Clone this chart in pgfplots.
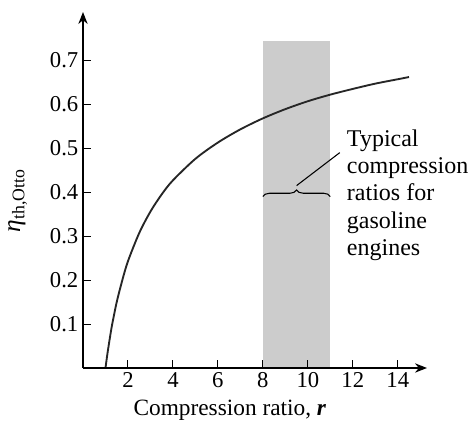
\documentclass[border=0pt]{standalone}
\usepackage{fontspec}
\setmainfont{Liberation Serif}
\usepackage{pgfplots}
\pgfplotsset{compat=1.18}
\usetikzlibrary{arrows.meta,decorations.pathreplacing}

\begin{document}
\begin{tikzpicture}
% frame of the whole picture, in pt from the axis corner
\path[use as bounding box] (-62.25pt,-45pt) rectangle (289.5pt,276pt);
\begin{axis}[
	at={(0pt,0pt)}, anchor=south west,
	scale only axis,
	width=258pt, height=267pt,
	xmin=0, xmax=15.3,
	ymin=0, ymax=0.81,
	axis lines=left,
	axis on top,
	axis line style={line width=1pt, -{Stealth[length=9pt,width=7pt]}},
	tick align=inside,
	major tick length=6pt,
	tick style={line width=0.8pt, black},
	xtick={2,4,6,8,10,12,14},
	ytick={0.1,0.2,0.3,0.4,0.5,0.6,0.7},
	/pgf/number format/assume math mode=true,
	/pgf/number format/fixed,
	/pgf/number format/precision=1,
	ticklabel style={font=\fontsize{17}{20}\selectfont},
	xlabel={Compression ratio, \textit{\textbf{r}}},
	ylabel={\textit{η}\textsubscript{th,Otto}},
	x label style={font=\fontsize{17.5}{20}\selectfont,
		at={(axis description cs:0.427,-0.118)}, anchor=center},
	y label style={font=\fontsize{19}{22}\selectfont,
		at={(axis description cs:-0.19,0.47)}, anchor=center},
	clip=false,
	]

	% typical range for gasoline engines
	\addplot[fill=black!20, draw=none] coordinates {
	(8,0) (8,0.745) (11,0.745) (11,0)
	} -- cycle;

	% thermal efficiency of the Otto cycle
	\addplot[line width=1.4pt, color=black!85, smooth] coordinates {
	(1.0, 0.000)
	(1.05, 0.019)
	(1.1, 0.037)
	(1.2, 0.070)
	(1.3, 0.100)
	(1.5, 0.150)
	(1.75, 0.200)
	(2.0, 0.243)
	(2.5, 0.307)
	(3.0, 0.356)
	(3.5, 0.395)
	(4.0, 0.427)
	(5.0, 0.476)
	(6.0, 0.513)
	(7.0, 0.543)
	(8.0, 0.568)
	(9.0, 0.589)
	(10.0, 0.607)
	(11.0, 0.622)
	(12.0, 0.635)
	(13.0, 0.647)
	(14.0, 0.657)
	(14.5, 0.662)
	};

	\draw[line width=0.8pt, decorate, decoration={brace, amplitude=5pt}]
		(axis cs:8,0.39) -- (axis cs:11,0.39);
	\draw[line width=0.8pt] (axis cs:9.5,0.415) -- (axis cs:11.42,0.49);
	\node[anchor=north west, inner sep=0pt, align=left,
		font=\fontsize{18}{20.5}\selectfont] at (axis cs:11.73,0.543)
		{Typical\\compression\\ratios for\\gasoline\\engines};
\end{axis}
\end{tikzpicture}
\end{document}
